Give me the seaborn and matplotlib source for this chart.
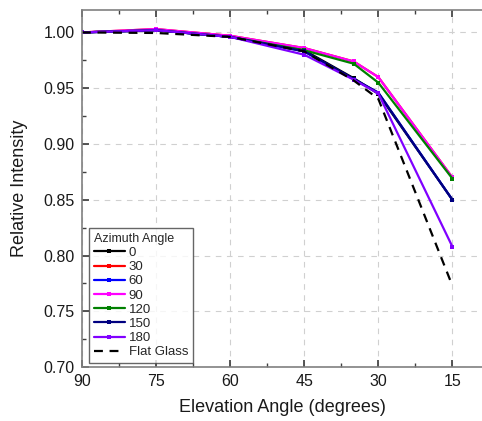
import matplotlib
matplotlib.use("Agg")
import matplotlib.pyplot as plt
import seaborn as sns
import pandas as pd
from matplotlib.ticker import MultipleLocator

sns.set_theme(style="white")
plt.rcParams['font.family'] = ['Liberation Sans', 'DejaVu Sans']

elevation = [90, 75, 60, 45, 35, 30, 15]
az_0 = [1.000, 1.002, 0.996, 0.984, 0.959, 0.945, 0.850]
az_30 = [1.000, 1.003, 0.997, 0.986, 0.974, 0.960, 0.870]
az_60 = [1.000, 1.002, 0.996, 0.983, 0.958, 0.946, 0.850]
az_90 = [1.000, 1.003, 0.997, 0.986, 0.974, 0.960, 0.870]
az_120 = [1.000, 1.002, 0.996, 0.984, 0.972, 0.955, 0.869]
az_150 = [1.000, 1.002, 0.996, 0.983, 0.9585, 0.946, 0.850]
az_180 = [1.000, 1.002, 0.996, 0.980, 0.9577, 0.9453, 0.808]
flat_glass = [1.000, 0.9995, 0.996, 0.983, 0.957, 0.9405, 0.773]

series_labels = ["0", "30", "60", "90", "120", "150", "180"]
series_values = [az_0, az_30, az_60, az_90, az_120, az_150, az_180]
colors = ["#000000", "#FF0000", "#0000FF", "#FF00FF", "#008000", "#000080", "#8000FF"]

rows = []
for lab, vals in zip(series_labels, series_values):
    for e, v in zip(elevation, vals):
        rows.append({"Elevation": e, "Intensity": v, "Azimuth": lab})
df = pd.DataFrame(rows)
df_flat = pd.DataFrame({"Elevation": elevation, "Intensity": flat_glass})

fig = plt.figure(figsize=(4.82, 4.21), dpi=100)
ax = fig.add_axes([0.170, 0.128, 0.830, 0.848])

sns.lineplot(data=df, x="Elevation", y="Intensity", hue="Azimuth",
             hue_order=series_labels, palette=colors, marker="s",
             markersize=3, markeredgewidth=0, linewidth=1.6, ax=ax,
             sort=False, estimator=None)
sns.lineplot(data=df_flat, x="Elevation", y="Intensity", color="black",
             linestyle=(0, (4, 3)), linewidth=1.6, ax=ax, label="Flat Glass",
             sort=False, estimator=None)

ax.set_xlim(90, 9)
ax.set_ylim(0.70, 1.02)
ax.xaxis.set_minor_locator(MultipleLocator(7.5))
ax.yaxis.set_major_locator(MultipleLocator(0.05))
ax.yaxis.set_minor_locator(MultipleLocator(0.025))
ax.set_xticks([90, 75, 60, 45, 30, 15])
ax.set_xticklabels(["90", "75", "60", "45", "30", "15"])
ax.yaxis.set_major_formatter(matplotlib.ticker.FormatStrFormatter("%.2f"))

ax.grid(True, which="major", linestyle=(0, (5, 5)), color="#d0d0d0", linewidth=0.8)
for s in ["left", "bottom", "top"]:
    ax.spines[s].set_color("#808080")
    ax.spines[s].set_linewidth(1.2)
ax.spines["right"].set_visible(False)
ax.tick_params(which="both", direction="in", top=True, right=False,
               bottom=True, left=True, color="#404040", labelsize=11.5,
               labelcolor="#1a1a1a")
ax.tick_params(which="major", length=5)
ax.tick_params(which="minor", length=3)
ax.tick_params(axis="x", pad=5)
ax.tick_params(axis="y", pad=5)

ax.set_xlabel("Elevation Angle (degrees)", fontsize=13, labelpad=7, color="#1a1a1a")
ax.set_ylabel("Relative Intensity", fontsize=13, labelpad=11, color="#1a1a1a")

leg = ax.legend(title="Azimuth Angle", loc="lower left",
                bbox_to_anchor=(7 / 398, 4 / 357), fontsize=9.5,
                title_fontsize=9, frameon=True, fancybox=False,
                edgecolor="#404040", handlelength=2.4, handletextpad=0.25,
                labelspacing=0.15, borderpad=0.35, borderaxespad=0.0)
leg.get_frame().set_linewidth(1.0)
leg._legend_box.align = "left"

fig.savefig("out.png", dpi=100)
